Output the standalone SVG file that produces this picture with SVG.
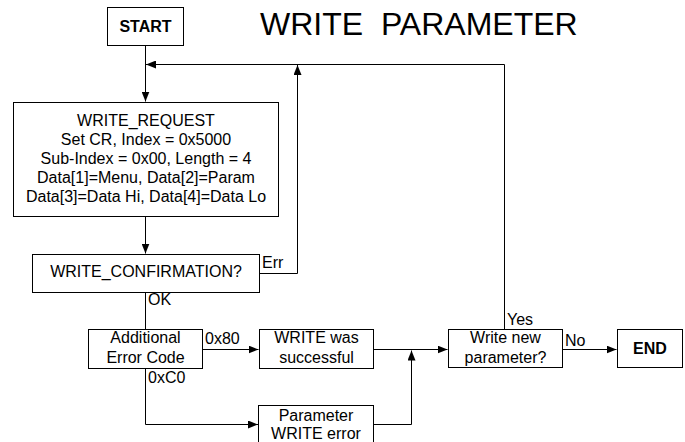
<svg xmlns="http://www.w3.org/2000/svg" width="685" height="442" viewBox="0 0 685 442">
<style>
.box{fill:#fff;stroke:#000;stroke-width:1}
.t{font-family:"Liberation Sans",Arial,sans-serif;font-size:16px;fill:#000}
.c{text-anchor:middle}
.b{font-weight:bold}
.ln{fill:none;stroke:#000;stroke-width:1}
</style>
<defs>
<marker id="ah" viewBox="0 0 10 8" refX="10" refY="4" markerWidth="10" markerHeight="8" markerUnits="userSpaceOnUse" orient="auto">
<path d="M0,0 L10,4 L0,8 z" fill="#000"/>
</marker>
</defs>
<rect width="685" height="442" fill="#fff"/>
<text class="t" x="260" y="35" style="font-size:32px;white-space:pre">WRITE  PARAMETER</text>
<g id="connectors">
<path class="ln" d="M145.5,45 V101.5" marker-end="url(#ah)"/>
<path class="ln" d="M504.5,329 V64.5 H146" marker-end="url(#ah)"/>
<path class="ln" d="M145.5,216 V253.5" marker-end="url(#ah)"/>
<path class="ln" d="M259,273.5 H297.5 V65" marker-end="url(#ah)"/>
<path class="ln" d="M145.5,292 V329"/>
<path class="ln" d="M202,349.5 H258.5" marker-end="url(#ah)"/>
<path class="ln" d="M145.5,368 V424.5 H258" marker-end="url(#ah)"/>
<path class="ln" d="M373,349.5 H447.5" marker-end="url(#ah)"/>
<path class="ln" d="M373,424.5 H411.5 V350.5" marker-end="url(#ah)"/>
<path class="ln" d="M562,349.5 H616.5" marker-end="url(#ah)"/>
<text class="t" x="262" y="268">Err</text>
<text class="t" x="148" y="305">OK</text>
<text class="t" x="205" y="344">0x80</text>
<text class="t" x="148" y="383">0xC0</text>
<text class="t" x="507" y="325">Yes</text>
<text class="t" x="565" y="346">No</text>
</g>
<g id="start">
<rect class="box" x="107.5" y="7.5" width="76" height="38"/>
<text class="t c b" x="145.5" y="32">START</text>
</g>
<g id="write_request">
<rect class="box" x="13.5" y="102.5" width="265" height="114"/>
<text class="t c" x="146" y="126">WRITE_REQUEST</text>
<text class="t c" x="146" y="145">Set CR, Index = 0x5000</text>
<text class="t c" x="146" y="164">Sub-Index = 0x00, Length = 4</text>
<text class="t c" x="146" y="183">Data[1]=Menu, Data[2]=Param</text>
<text class="t c" x="146" y="202">Data[3]=Data Hi, Data[4]=Data Lo</text>
</g>
<g id="write_confirmation">
<rect class="box" x="32.5" y="254.5" width="227" height="38"/>
<text class="t c" x="146" y="277">WRITE_CONFIRMATION?</text>
</g>
<g id="additional_error_code">
<rect class="box" x="88.5" y="329.5" width="114" height="39"/>
<text class="t c" x="145.5" y="343">Additional</text>
<text class="t c" x="145.5" y="363">Error Code</text>
</g>
<g id="write_successful">
<rect class="box" x="259.5" y="329.5" width="114" height="39"/>
<text class="t c" x="316.5" y="343">WRITE was</text>
<text class="t c" x="316.5" y="363">successful</text>
</g>
<g id="param_write_error">
<rect class="box" x="258.5" y="405.5" width="115" height="50"/>
<text class="t c" x="316" y="421">Parameter</text>
<text class="t c" x="316" y="439">WRITE error</text>
</g>
<g id="write_new_param">
<rect class="box" x="448.5" y="329.5" width="114" height="38"/>
<text class="t c" x="505.5" y="343">Write new</text>
<text class="t c" x="505.5" y="363">parameter?</text>
</g>
<g id="end">
<rect class="box" x="617.5" y="329.5" width="65" height="38"/>
<text class="t c b" x="650" y="354">END</text>
</g>
</svg>
